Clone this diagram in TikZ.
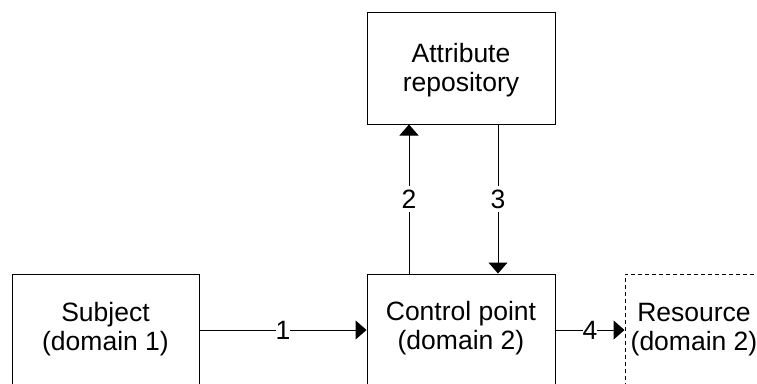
\documentclass[tikz,border=0pt]{standalone}
\usepackage{fontspec}
\setmainfont{Liberation Sans}
\usetikzlibrary{arrows.meta,calc}

\tikzset{
  box/.style={draw, line width=1pt, minimum width=188pt, minimum height=112pt, inner sep=0pt},
  dashbox/.style={box, dashed, dash pattern=on 4pt off 3pt},
  txt/.style={anchor=base, inner sep=0pt, font=\fontsize{26.5}{29}\selectfont},
  flow/.style={line width=1pt, -{Triangle[length=11pt,width=19pt]}},
  lbl/.style={fill=white, inner xsep=0pt, inner ysep=4pt, font=\fontsize{26.5}{29}\selectfont}
}

\newcommand{\twolines}[2]{\begin{tabular}[t]{@{}c@{}}#1\\#2\end{tabular}}

\begin{document}
\begin{tikzpicture}[x=1pt, y=-1pt]
  \useasboundingbox (0,0) rectangle (757,383);
  \clip (0,0) rectangle (757,383);

  % boxes
  \node[box] (attr) at (461,68) {};
  \node[box, minimum width=187pt] (sub) at (105.5,330) {};
  \node[box] (ctrl) at (461,330) {};
  \node[dashbox, minimum width=138pt] (res) at (694,330) {};

  % box texts
  \node[txt] (attrtxt) at ($(attr.north)+(0,51)$) {\twolines{Attribute}{repository}};
  \node[txt] (subtxt) at ($(sub.north)+(0,48)$) {\twolines{Subject}{(domain 1)}};
  \node[txt] (ctrltxt) at ($(ctrl.north)+(0,47)$) {\twolines{Control point}{(domain 2)}};
  \node[txt] (restxt) at ($(res.north)+(0,48)$) {\twolines{Resource}{(domain 2)}};

  % columns of the vertical connectors
  \coordinate (up) at (409,0);
  \coordinate (down) at (498,0);

  % connectors
  \draw[flow] (sub.east) -- (ctrl.west) node[lbl, midway] {1};
  \draw[flow] (up |- ctrl.north) -- (up |- attr.south) node[lbl, midway] {2};
  \draw[flow] (down |- attr.south) -- (down |- ctrl.north) node[lbl, midway] {3};
  \draw[flow] (ctrl.east) -- (res.west) node[lbl, midway] {4};
\end{tikzpicture}
\end{document}
